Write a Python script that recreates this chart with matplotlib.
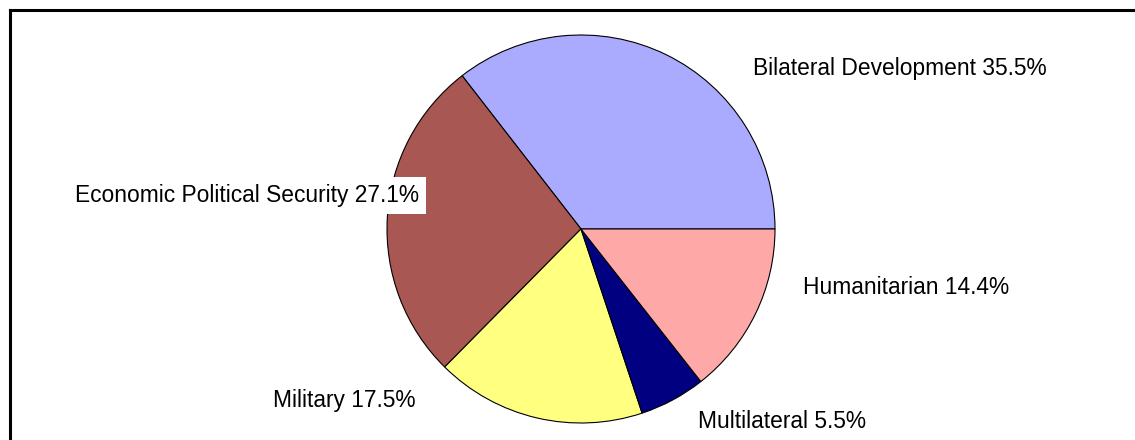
import matplotlib
matplotlib.use('Agg')
import matplotlib.pyplot as plt
from matplotlib.lines import Line2D

labels = ['Bilateral Development', 'Economic Political Security', 'Military',
          'Multilateral', 'Humanitarian']
shares = [35.5, 27.1, 17.5, 5.5, 14.4]
colors = ['#aaaaff', '#a85752', '#ffff80', '#000080', '#ffa8a8']

W, H = 1135, 440
fig = plt.figure(figsize=(W / 100, H / 100), dpi=100)
plt.rcParams['font.family'] = ['Liberation Sans', 'DejaVu Sans']

# pie centre and radius in pixels
cx, cy, r = 581, 229, 194
ax = fig.add_axes([0, 0, 1, 1])
ax.axis('off')
ax.pie(shares, colors=colors, startangle=0, counterclock=True, radius=1,
       wedgeprops=dict(edgecolor='black', linewidth=0.8))
ax.set_aspect('auto')
ax.set_xlim(-cx / r, (W - cx) / r)
ax.set_ylim(-(H - cy) / r, cy / r)

# label positions (left edge x, baseline y) in pixels
pos = [(753, 75), (75, 202), (273, 407), (698, 428), (803, 294)]
for lab, s, (px, py) in zip(labels, shares, pos):
    kw = {}
    if lab.startswith('Economic'):
        kw['bbox'] = dict(facecolor='white', edgecolor='none', pad=5)
    fig.text(px / W, 1 - py / H, f'{lab} {s}%', ha='left', va='baseline',
             fontsize=16.4, color='black', **kw)

# border (top and left only visible)
fig.add_artist(Line2D([10 / W, 1], [1 - 10.5 / H, 1 - 10.5 / H], color='black',
                      lw=2.2, transform=fig.transFigure))
fig.add_artist(Line2D([10 / W, 10 / W], [0, 1 - 10.5 / H], color='black',
                      lw=2.2, transform=fig.transFigure))

fig.savefig('out.png', dpi=100)
